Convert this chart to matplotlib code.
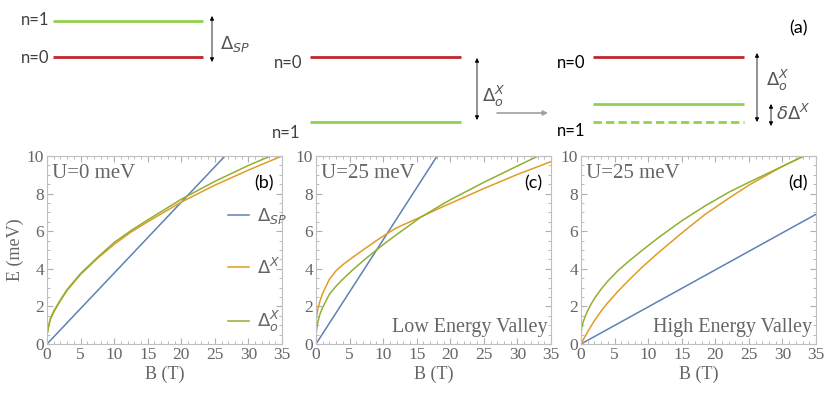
import matplotlib.pyplot as plt
from matplotlib.ticker import MultipleLocator

# values
B_lin = [0, 35]

# (b) U=0 meV
b_sp = [0, 13.2]
B_b_x = [0, 0.25, 0.5, 1, 2, 3, 5, 7.5, 10, 12.5, 15, 20, 25, 30, 35]
b_x = [0.45, 0.95, 1.3, 1.7, 2.3, 2.85, 3.7, 4.55, 5.3, 5.95, 6.5, 7.55, 8.45, 9.25, 10.0]
B_b_ox = [0, 0.25, 0.5, 1, 2, 3, 5, 7.5, 10, 12.5, 15, 20, 25, 30, 33.3]
b_ox = [0.5, 1.0, 1.35, 1.75, 2.35, 2.9, 3.75, 4.6, 5.4, 6.03, 6.6, 7.7, 8.65, 9.5, 10.0]

# (c) U=25 meV, low energy valley
c_sp = [0, 19.4]
B_c_x = [0, 0.1, 0.3, 0.6, 1, 2, 3, 4, 5.5, 7, 9, 10.5, 12, 14, 15.5, 18.5, 20, 25, 30, 35]
c_x = [1.0, 1.5, 1.9, 2.3, 2.7, 3.45, 3.9, 4.22, 4.62, 5.0, 5.5, 5.85, 6.18, 6.5, 6.74,
       7.24, 7.48, 8.27, 9.02, 9.7]
B_c_ox = [0, 0.1, 0.3, 0.6, 1, 2, 3, 4, 5.5, 7, 9, 10.5, 12, 14, 15.5, 18.5, 20, 25, 30, 33.1]
c_ox = [0.5, 0.8, 1.2, 1.6, 1.95, 2.65, 3.08, 3.45, 3.95, 4.42, 5.0, 5.42, 5.82, 6.33, 6.72,
        7.36, 7.67, 8.6, 9.47, 10.0]

# (d) U=25 meV, high energy valley
d_sp = [0, 6.9]
B_d = [0, 0.1, 0.3, 0.6, 1, 1.5, 2, 3, 4, 5.5, 7, 9, 11.5, 15, 18.5, 22, 25, 30, 33.2]
d_x = [0, 0.07, 0.21, 0.4, 0.65, 0.95, 1.24, 1.75, 2.2, 2.8, 3.35, 4.05, 4.85, 5.9, 6.9,
       7.75, 8.45, 9.45, 10.0]
d_ox = [0.5, 0.85, 1.15, 1.45, 1.78, 2.12, 2.42, 2.92, 3.35, 3.9, 4.37, 4.95, 5.65, 6.55,
        7.35, 8.07, 8.6, 9.45, 10.0]

c_blue, c_orange, c_green = '#5e81b5', '#e19c24', '#8fb032'
red, lgreen = '#c0262b', '#92d050'
grey = '#666666'
serif = 'Liberation Serif'
sans = 'Lato'

fig = plt.figure(figsize=(8.3, 3.95), dpi=100)

# ---- schematic (a), drawn in pixel coordinates
sk = fig.add_axes([0, 0, 1, 1])
sk.set_xlim(0, 830)
sk.set_ylim(395, 0)
sk.axis('off')

def level(x0, x1, y, col, ls='-'):
    sk.plot([x0, x1], [y, y], color=col, lw=2, ls=ls, solid_capstyle='butt')

def darrow(x, y0, y1):
    sk.annotate('', xy=(x, y0), xytext=(x, y1),
                arrowprops=dict(arrowstyle='<|-|>', color='k', lw=0.6,
                                mutation_scale=6, shrinkA=0, shrinkB=0))

def nlabel(x, y, s, col='#404040'):
    sk.text(x, y, s, ha='right', va='center', fontsize=12, family=sans, color=col)

level(53, 203, 21, lgreen)
level(53, 203, 57, red)
nlabel(49, 20, 'n=1')
nlabel(49, 58, 'n=0')
darrow(212, 16, 62)
sk.text(220, 44, r'$\Delta_{SP}$', fontsize=13, color='#555555', va='center')

level(310, 461, 57, red)
level(310, 461, 122, lgreen)
nlabel(302, 63, 'n=0')
nlabel(300, 133, 'n=1')
darrow(477, 58, 120)
sk.text(482, 96, r'$\Delta_o^X$', fontsize=13, color='#555555', va='center')
sk.annotate('', xy=(548, 113), xytext=(497, 113),
            arrowprops=dict(arrowstyle='-|>', color='#a0a0a0', lw=1.2,
                            mutation_scale=7, shrinkA=0, shrinkB=0))

level(593, 744, 57, red)
level(593, 744, 104, lgreen)
level(593, 744, 122, lgreen, ls=(0, (3, 1.5)))
nlabel(585, 63, 'n=0', 'k')
nlabel(585, 131, 'n=1', 'k')
darrow(757, 53, 122)
sk.text(766, 80, r'$\Delta_o^X$', fontsize=13, color='#555555', va='center')
darrow(771, 104, 126)
sk.text(776, 114, r'$\delta\Delta^X$', fontsize=13, color='#555555', va='center')
sk.text(798, 28, '(a)', fontsize=13, family=sans, ha='center', va='center')

# ---- panels (b), (c), (d)
panels = [
    (47, [(B_lin, b_sp, c_blue, r'$\Delta_{SP}$'), (B_b_x, b_x, c_orange, r'$\Delta^X$'),
          (B_b_ox, b_ox, c_green, r'$\Delta_o^X$')], 'U=0 meV', '(b)', None),
    (316, [(B_lin, c_sp, c_blue, None), (B_c_x, c_x, c_orange, None),
           (B_c_ox, c_ox, c_green, None)], 'U=25 meV', '(c)', 'Low Energy Valley'),
    (581, [(B_lin, d_sp, c_blue, None), (B_d, d_x, c_orange, None),
           (B_d, d_ox, c_green, None)], 'U=25 meV', '(d)', 'High Energy Valley'),
]

W, H = 830, 395
for left, curves, utext, tag, valley in panels:
    ax = fig.add_axes([left / W, (H - 344) / H, 235 / W, 188 / H])
    for xs, ys, col, lab in curves:
        ax.plot(xs, ys, color=col, lw=1.1, label=lab)
    ax.set_xlim(0, 35)
    ax.set_ylim(0, 10)
    ax.xaxis.set_major_locator(MultipleLocator(5))
    ax.xaxis.set_minor_locator(MultipleLocator(1))
    ax.yaxis.set_major_locator(MultipleLocator(2))
    ax.yaxis.set_minor_locator(MultipleLocator(0.5))
    ax.tick_params(which='both', direction='in', top=True, right=True, color='#b0b0b0',
                   labelcolor=grey, labelsize=12.5, pad=2)
    ax.tick_params(which='major', length=4)
    ax.tick_params(which='minor', length=2)
    for lbl in ax.get_xticklabels() + ax.get_yticklabels():
        lbl.set_family(serif)
    for sp in ax.spines.values():
        sp.set_color('#c0c0c0')
    ax.set_xlabel('B (T)', family=serif, fontsize=13, color=grey, labelpad=2)
    ax.text(0.02, 0.955, utext, transform=ax.transAxes, family=serif, fontsize=15,
            color=grey, va='top', ha='left')
    ax.text(0.965, 0.855, tag, transform=ax.transAxes, family=sans, fontsize=13,
            color='k', va='center', ha='right')
    if valley:
        ax.text(0.985, 0.035, valley, transform=ax.transAxes, family=serif, fontsize=14.5,
                color=grey, va='bottom', ha='right')
    if tag == '(b)':
        ax.set_ylabel('E (meV)', family=serif, fontsize=13, color=grey, labelpad=2)
        ax.legend(loc='upper left', bbox_to_anchor=(0.7, 0.82), frameon=False,
                  fontsize=13, handlelength=1.2, handletextpad=0.4, labelspacing=1.75,
                  labelcolor=grey)

fig.savefig('out.png', dpi=100)
